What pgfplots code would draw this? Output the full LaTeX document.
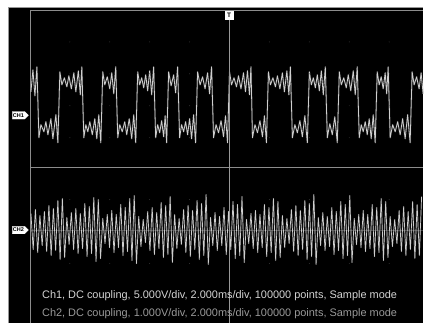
\documentclass[border=0pt]{standalone}
\usepackage{pgfplots}
\usepackage{pgfplotstable}
\pgfplotsset{compat=1.18}
\usepackage{fontspec}
\setmainfont{Liberation Sans}
\usetikzlibrary{shapes.symbols}
\definecolor{wave}{HTML}{CFCFCF}
\definecolor{frame}{HTML}{8C8C8C}
\definecolor{txtA}{HTML}{D4D4D4}
\definecolor{txtB}{HTML}{9A9A9A}

\pgfplotstableread{
x y
31 92
33 70
35 96
37 67
39 138
41 125
44 132
46 122
48 135
51 119
53 139
56 115
58 143
60 72
62 85
64.5 78
67 87
69 76
71.5 89
74 73
76 92
78.5 71
80.5 95
82 67
84 138
86 125
88 132
90 122
92.5 135
95 119
97 139
99 115
101 143
103 72
105 85
107.5 77
110 89
112 73
114 94
116 67
118 138
120 125
122.5 132
125 122
127 135
129.5 119
132 139
134 115
136 143
138 72
140 85
142 78
144 88
146 75
148 91
150 71
152 95
154 67
156 138
158 125
160 133
162 121
164 137
165.5 116
167 143
169 72
171.5 86
174 75
176 93
178 67
180 138
182 125
184 132
186 122
188 135
190 119
192 139
194 115
196 143
198 72
200.5 85
203 77
205.5 89
208 73
210 94
212 67
214 138
216.5 125
219 133
221.5 121
224 137
226 116
228 143
230 72
232 85
234.5 78
237 87
239 76
241.5 89
244 73
246 92
248 71
250 95
251.5 67
253 138
255.5 125
258 133
260.5 121
263 137
265 116
267 143
269 72
271 85
273.5 78
276 87
278 76
280.5 89
283 73
285 92
287.5 71
289.5 95
291 67
293 138
295.5 125
298 133
300.5 121
303 137
305.5 116
308 143
310 72
312 85
314 78
316 88
318 75
320 91
322 71
324 95
326 67
328 138
330.5 124
333 135
335.5 117
338 143
340 72
342 85
344.5 78
347 88
349 75
351.5 91
354 71
356 95
358 67
360 138
362 125
364 132
366 122
368 135
370 119
372 139
374 115
376 143
378 72
380 85
382 77
384 89
386 73
387.5 94
389 67
391 138
393.5 125
396 132
398.5 122
401 135
403.5 119
406 139
408.5 115
411 143
413 72
415 85
417.5 77
420 89
422 73
424 94
}\chone

\pgfplotstableread{
x y
31 214
33.25 250
35.5 210
37.75 253
40 216
42.25 246
44.5 212
46.75 252
49 206
51.25 256
53.5 209
55.75 251
58 201
60.25 260
62.5 199
64.75 258
67 218
69.25 245
71.5 213
73.75 250
76 209
78.25 254
80.5 214
82.75 249
85 204
87.25 257
89.5 207
91.75 254
94 198
96.25 262
98.5 200
100.75 259
103 219
105.25 244
107.5 215
109.75 248
112 211
114.25 253
116.5 215
118.75 248
121 205
123.25 256
125.5 208
127.75 252
130 199
132.25 261
134.5 196
136.75 264
139 217
141.25 247
143.5 220
145.75 243
148 212
150.25 251
152.5 208
154.75 255
157 213
159.25 249
161.5 203
163.75 258
166 206
168.25 255
170.5 197
172.75 263
175 215
177.25 249
179.5 219
181.75 245
184 210
186.25 253
188.5 206
190.75 257
193 211
195.25 250
197.5 201
199.75 260
202 204
204.25 256
206.5 195
208.75 265
211 218
213.25 246
215.5 213
217.75 251
220 217
222.25 246
224.5 208
226.75 255
229 212
231.25 250
233.5 202
235.75 259
238 205
240.25 256
242.5 197
244.75 263
247 220
249.25 244
251.5 214
253.75 249
256 211
258.25 253
260.5 215
262.75 248
265 205
267.25 257
269.5 208
271.75 253
274 199
276.25 261
278.5 202
280.75 258
283 216
285.25 248
287.5 219
289.75 244
292 210
294.25 252
296.5 206
298.75 256
301 211
303.25 250
305.5 201
307.75 260
310 204
312.25 257
314.5 195
316.75 265
319 218
321.25 246
323.5 213
325.75 251
328 217
330.25 247
332.5 208
334.75 255
337 212
339.25 251
341.5 202
343.75 259
346 205
348.25 256
350.5 196
352.75 263
355 219
357.25 245
359.5 215
361.75 248
364 211
366.25 252
368.5 215
370.75 249
373 205
375.25 257
377.5 208
379.75 253
382 199
384.25 261
386.5 202
388.75 258
391 217
393.25 247
395.5 220
397.75 244
400 211
402.25 252
404.5 207
406.75 256
409 212
411.25 250
413.5 202
415.75 259
418 205
420.25 256
422.5 197
}\chtwo

\pgfplotstableread{
x y
70 42
110 42
150 42
190 42
270 42
310 42
350 42
390 42
70 74
110 74
150 74
190 74
270 74
310 74
350 74
390 74
70 106
110 106
150 106
190 106
270 106
310 106
350 106
390 106
70 138
110 138
150 138
190 138
270 138
310 138
350 138
390 138
70 200
110 200
150 200
190 200
270 200
310 200
350 200
390 200
70 264
110 264
150 264
190 264
270 264
310 264
350 264
390 264
}\griddots

\begin{document}
\begin{tikzpicture}
\begin{axis}[
  width=424pt, height=324pt, scale only axis,
  xmin=0, xmax=424, ymin=0, ymax=324,
  y dir=reverse, hide axis, clip=false,
]
% background
\fill[white] (axis cs:0,0) rectangle (axis cs:424,324);
\fill[black] (axis cs:8,7) rectangle (axis cs:424,324);
% frame lines
\draw[frame!90, line width=0.8pt] (axis cs:8.4,324) -- (axis cs:8.4,7.4) -- (axis cs:424,7.4);
\draw[frame, line width=0.9pt] (axis cs:30.5,324) -- (axis cs:30.5,10.5) -- (axis cs:424,10.5);
\draw[frame, line width=0.9pt] (axis cs:30.5,168) -- (axis cs:424,168);
% grid dots
\addplot[only marks, mark=*, mark size=0.45pt, color=black!75!white, draw opacity=0] table {\griddots};
% CH2 baseline glow
\draw[gray!45!black, line width=1pt] (axis cs:31,231) -- (axis cs:424,231);
% waveforms: glow then core
\addplot[no markers, color=gray, opacity=0.25, line width=1.8pt, line join=round] table {\chone};
\addplot[no markers, color=wave, line width=0.8pt, line join=round] table {\chone};
\addplot[no markers, color=gray, opacity=0.2, line width=1.6pt, line join=round] table {\chtwo};
\addplot[no markers, color=wave, line width=0.7pt, line join=round] table {\chtwo};
% trigger line and marker
\draw[gray!80, line width=1pt] (axis cs:229.5,19) -- (axis cs:229.5,324);
\node[fill=white, draw=white, inner sep=0.6pt, minimum width=7.5pt, minimum height=8pt,
      font=\bfseries\fontsize{6.5}{6.5}\selectfont, text=black] at (axis cs:229.5,15.5) {T};
% channel tags
\node[signal, signal to=east, fill=white, draw=white, inner sep=0.7pt, minimum height=7.5pt,
      font=\bfseries\fontsize{5.5}{5.5}\selectfont, text=black] at (axis cs:18.5,115.5) {CH1};
\node[signal, signal to=east, fill=white, draw=white, inner sep=0.7pt, minimum height=7.5pt,
      font=\bfseries\fontsize{5.5}{5.5}\selectfont, text=black] at (axis cs:18.5,230.5) {CH2};
% info text
\node[anchor=base west, inner sep=0pt, text=txtA, font=\fontsize{10.95}{12}\selectfont]
  at (axis cs:42,299) {Ch1, DC coupling, 5.000V/div, 2.000ms/div, 100000 points, Sample mode};
\node[anchor=base west, inner sep=0pt, text=txtB, font=\fontsize{10.95}{12}\selectfont]
  at (axis cs:42,317) {Ch2, DC coupling, 1.000V/div, 2.000ms/div, 100000 points, Sample mode};
\end{axis}
\end{tikzpicture}
\end{document}
